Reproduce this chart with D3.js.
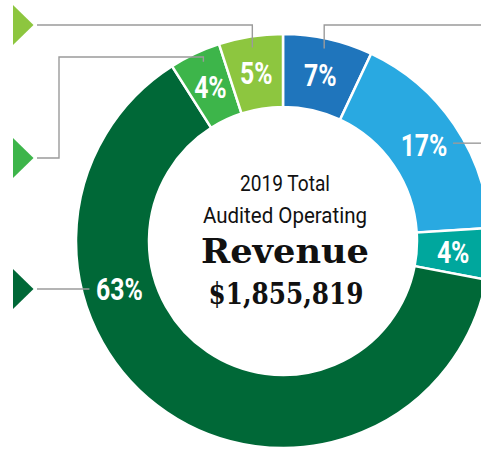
<!DOCTYPE html>
<html>
<head>
<meta charset="utf-8">
<script src="https://cdn.jsdelivr.net/npm/d3@7"></script>
<style>
  body { margin: 0; background: #fff; }
  svg { display: block; }
</style>
</head>
<body>
<div id="chart-area"></div>
<script>
// SVG Size
var width = 481,
	height = 449;

// Revenue shares, clockwise from 12 o'clock
var shareLabels = ["7%", "17%", "4%", "63%", "4%", "5%"];
var shareValues = [7, 17, 4, 63, 4, 5];
var shareColors = ["#1f75bc", "#29a9e1", "#00a79d", "#006837", "#3db54a", "#8dc63f"];

// Text in the hole
var titleLines = ["2019 Total", "Audited Operating"];
var headline = "Revenue";
var totalText = "$1,855,819";

var cx = 283, cy = 241,
	innerR = 134, outerR = 207,
	labelR = (innerR + outerR) / 2;

var svg = d3.select("#chart-area")
	.append("svg")
	.attr("width", width)
	.attr("height", height);

var pie = d3.pie()
	.sort(null)
	.value(function(d) { return d; });

var arc = d3.arc()
	.innerRadius(innerR)
	.outerRadius(outerR);

var labelArc = d3.arc()
	.innerRadius(labelR)
	.outerRadius(labelR);

var arcs = pie(shareValues);

var g = svg.append("g")
	.attr("transform", "translate(" + cx + "," + cy + ")");

g.selectAll("path.slice")
	.data(arcs)
	.enter()
	.append("path")
	.attr("class", "slice")
	.attr("d", arc)
	.attr("fill", function(d, i) { return shareColors[i]; })
	.attr("stroke", "#fff")
	.attr("stroke-width", 2.5);

// label positions (absolute coords); the big slice is pulled to its marker row
var rowBig = 289;
var pos = arcs.map(function(d, i) {
	var c = labelArc.centroid(d);
	if (i === 3) {
		var dy = rowBig - cy;
		return [cx - Math.sqrt(labelR * labelR - dy * dy), rowBig];
	}
	return [cx + c[0], cy + c[1]];
});

// leader lines
var lineColor = "#9b9b9b";
var tipX = 37, topRow = 25, greenRow = 57, greenMarker = 158;
var leaders = [];
var markers = [];
pos.forEach(function(p, i) {
	var x = p[0], y = p[1];
	if (i === 0) {
		leaders.push([[x + 4, y - 26], [x + 4, topRow], [width, topRow]]);
	} else if (i === 1 || i === 2) {
		leaders.push([[x + 29, y - 2], [width, y - 2]]);
	} else if (i === 3) {
		leaders.push([[x - 30, y], [tipX, y]]);
		markers.push({ y: y, color: shareColors[i] });
	} else if (i === 4) {
		leaders.push([[x - 7, y - 25], [x - 7, greenRow], [59, greenRow], [59, greenMarker], [tipX, greenMarker]]);
		markers.push({ y: greenMarker, color: shareColors[i] });
	} else if (i === 5) {
		leaders.push([[x - 4, y - 25], [x - 4, topRow], [tipX, topRow]]);
		markers.push({ y: topRow, color: shareColors[i] });
	}
});

svg.selectAll("path.leader")
	.data(leaders)
	.enter()
	.append("path")
	.attr("class", "leader")
	.attr("d", d3.line())
	.attr("fill", "none")
	.attr("stroke", lineColor)
	.attr("stroke-width", 1.4);

svg.selectAll("path.marker")
	.data(markers)
	.enter()
	.append("path")
	.attr("class", "marker")
	.attr("d", function(d) {
		return "M13," + (d.y - 20) + "L33.5," + d.y + "L13," + (d.y + 20) + "Z";
	})
	.attr("fill", function(d) { return d.color; });

// percentage labels
svg.selectAll("text.pct")
	.data(pos)
	.enter()
	.append("text")
	.attr("class", "pct")
	.attr("transform", function(d) {
		return "translate(" + d[0] + "," + (d[1] + 11) + ") scale(0.8,1)";
	})
	.attr("text-anchor", "middle")
	.attr("fill", "#fff")
	.style("font-family", "Roboto, 'Liberation Sans', sans-serif")
	.style("font-weight", 700)
	.style("font-size", "31px")
	.text(function(d, i) { return shareLabels[i]; });

// centre text
var tx = 285;
svg.append("text")
	.attr("x", tx).attr("y", 191)
	.attr("text-anchor", "middle")
	.attr("textLength", 90)
	.attr("lengthAdjust", "spacingAndGlyphs")
	.style("font-family", "Roboto, sans-serif")
	.style("font-size", "22.5px")
	.attr("fill", "#111")
	.text(titleLines[0]);

svg.append("text")
	.attr("x", tx).attr("y", 223)
	.attr("text-anchor", "middle")
	.attr("textLength", 164)
	.attr("lengthAdjust", "spacingAndGlyphs")
	.style("font-family", "Roboto, sans-serif")
	.style("font-size", "22.5px")
	.attr("fill", "#111")
	.text(titleLines[1]);

svg.append("text")
	.attr("x", tx).attr("y", 263)
	.attr("text-anchor", "middle")
	.attr("textLength", 168)
	.attr("lengthAdjust", "spacingAndGlyphs")
	.style("font-family", "'DejaVu Serif', serif")
	.style("font-weight", 700)
	.style("font-size", "33px")
	.attr("fill", "#111")
	.text(headline);

svg.append("text")
	.attr("x", tx + 1).attr("y", 304)
	.attr("text-anchor", "middle")
	.attr("textLength", 155)
	.attr("lengthAdjust", "spacingAndGlyphs")
	.style("font-family", "'DejaVu Serif', serif")
	.style("font-weight", 700)
	.style("font-size", "30px")
	.attr("fill", "#111")
	.text(totalText);
</script>
</body>
</html>
